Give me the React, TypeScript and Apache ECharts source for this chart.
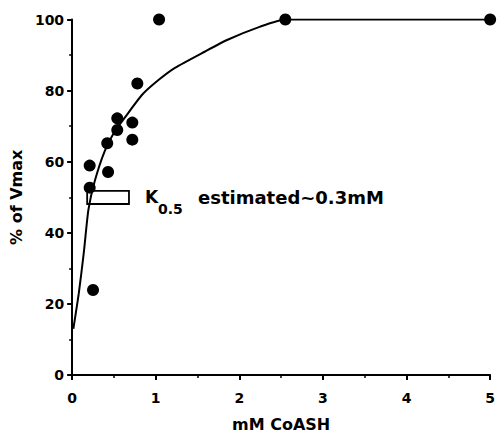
import React, { useEffect, useRef } from "react";
import * as echarts from "echarts";

const pointsX = [0.21, 0.21, 0.25, 0.42, 0.43, 0.54, 0.54, 0.72, 0.72, 0.78, 1.04, 2.55, 5.0];
const pointsY = [58.9, 52.7, 23.9, 65.2, 57.1, 72.2, 68.9, 71.0, 66.2, 82.0, 100, 100, 100];

const curveX = [0.015, 0.08, 0.14, 0.195, 0.27, 0.39, 0.51, 0.63, 0.84, 1.04, 1.23, 1.59, 1.86, 2.25, 2.55, 5.0];
const curveY = [13, 23, 34.5, 46.5, 54.5, 63, 68.5, 72.4, 78.9, 83.1, 86.4, 91, 94.3, 98, 100, 100];

const boxX = [0.18, 0.68];
const boxY = [48.1, 51.8];

const xTitle = "mM CoASH";
const yTitle = "% of Vmax";
const annotK = "K";
const annotSub = "0.5";
const annotRest = "estimated~0.3mM";

const FONT = "DejaVu Sans";

export default function App() {
  const ref = useRef<HTMLDivElement>(null);
  useEffect(() => {
    if (!ref.current) return;
    const chart = echarts.init(ref.current, null, { renderer: "svg" });
    const axisCommon = {
      axisLine: { show: true, onZero: false, lineStyle: { color: "#000", width: 2, opacity: 1 } },
      axisTick: { show: true, inside: false, length: 5, lineStyle: { color: "#000", width: 2, opacity: 1 } },
      minorTick: { show: true, splitNumber: 2, length: 3, lineStyle: { color: "#000", width: 1.5, opacity: 1 } },
      splitLine: { show: false },
      nameTextStyle: { color: "#000", fontFamily: FONT, fontWeight: "bold", fontSize: 16 },
    };
    chart.setOption({
      animation: false,
      backgroundColor: "#fff",
      grid: { left: 72, right: 1, top: 19.5, bottom: 59 },
      xAxis: {
        type: "value",
        min: 0,
        max: 5,
        interval: 1,
        name: xTitle,
        nameLocation: "middle",
        nameGap: 41,
        ...axisCommon,
        axisLabel: { color: "#000", fontFamily: FONT, fontWeight: "bold", fontSize: 14, margin: 16 },
      },
      yAxis: {
        type: "value",
        min: 0,
        max: 100,
        interval: 20,
        name: yTitle,
        nameLocation: "middle",
        nameGap: 48,
        ...axisCommon,
        axisLabel: { color: "#000", fontFamily: FONT, fontWeight: "bold", fontSize: 14, margin: 8 },
      },
      series: [
        {
          type: "line",
          data: curveX.map((x, i) => [x, curveY[i]]),
          smooth: 0.2,
          showSymbol: false,
          symbol: "none",
          lineStyle: { color: "#000", width: 2 },
          z: 2,
        },
        {
          type: "scatter",
          data: pointsX.map((x, i) => [x, pointsY[i]]),
          symbolSize: 12,
          itemStyle: { color: "#000", opacity: 1 },
          clip: false,
          z: 3,
          markArea: {
            silent: true,
            itemStyle: { color: "#fff", opacity: 1, borderColor: "#000", borderWidth: 1.8 },
            data: [[{ coord: [boxX[0], boxY[1]] }, { coord: [boxX[1], boxY[0]] }]],
          },
        },
      ],
    });
    const p = chart.convertToPixel({ gridIndex: 0 }, [boxX[1], (boxY[0] + boxY[1]) / 2]) as number[];
    const tx = p[0] + 16;
    const ty = p[1];
    const style = { fill: "#000", fontFamily: FONT, fontWeight: "bold" };
    chart.setOption({
      graphic: [
        { type: "text", x: tx, y: ty, style: { ...style, text: annotK, fontSize: 17, verticalAlign: "middle" } },
        { type: "text", x: tx + 13, y: ty + 12, style: { ...style, text: annotSub, fontSize: 14, verticalAlign: "middle" } },
        { type: "text", x: tx + 53, y: ty, style: { ...style, text: annotRest, fontSize: 18, verticalAlign: "middle" } },
      ],
    });
    return () => chart.dispose();
  }, []);
  return <div ref={ref} style={{ width: 498, height: 437, position: "absolute", left: 0, top: 0 }} />;
}
